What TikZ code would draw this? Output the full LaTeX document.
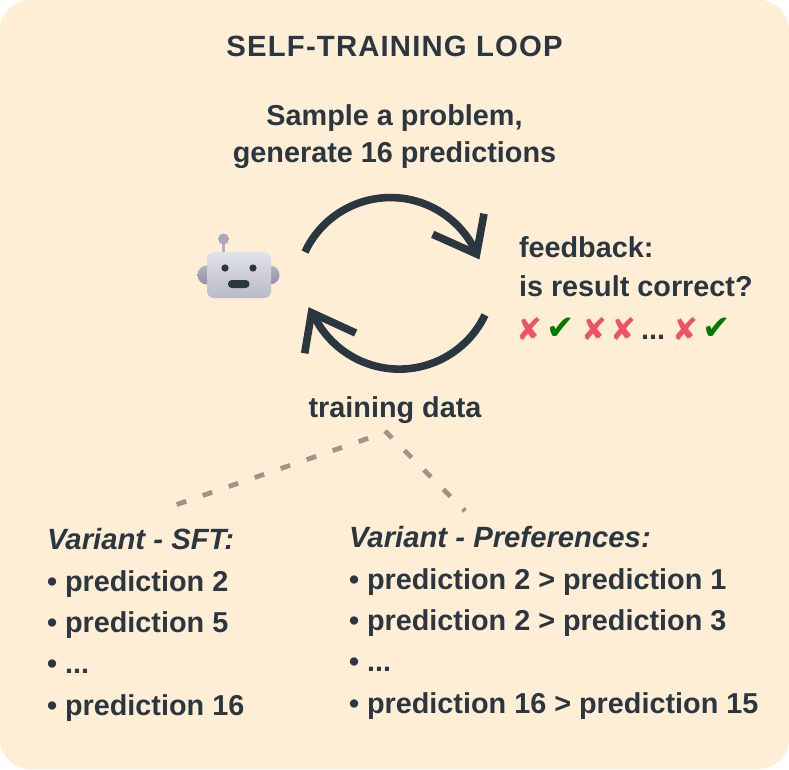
\documentclass[tikz,border=0pt]{standalone}
\usepackage{fontspec}
\setmainfont{Liberation Sans}
\newfontfamily\symfont{DejaVu Sans}
\newfontfamily\titlefont[LetterSpace=4]{Liberation Sans}
\definecolor{bgc}{HTML}{FEEED6}
\definecolor{ink}{HTML}{2A3740}
\definecolor{dashc}{HTML}{A09488}
\definecolor{redc}{HTML}{EE5268}
\definecolor{greenc}{HTML}{007A00}
\definecolor{headt}{HTML}{E2E2E9}
\definecolor{headb}{HTML}{B9B9C8}
\definecolor{eart}{HTML}{B5B3C3}
\definecolor{earb}{HTML}{918EA8}
\tikzset{
  txt/.style={inner sep=0pt,outer sep=0pt,anchor=base west,text=ink,font=\fontsize{28.8}{30}\selectfont\bfseries},
  ctxt/.style={txt,anchor=base},
  vtxt/.style={txt,font=\fontsize{29.3}{30}\selectfont\bfseries\itshape},
  loopline/.style={draw=ink,line width=7.6pt,line cap=butt,miter limit=10},
  dashline/.style={draw=dashc,line width=4.8pt,dash pattern=on 10pt off 17.5pt},
  nomark/.style={inner sep=0pt,text=redc,font=\symfont\fontsize{31}{31}\selectfont},
  yesmark/.style={inner sep=0pt,text=greenc,font=\symfont\fontsize{34}{34}\selectfont},
}
\begin{document}
\begin{tikzpicture}[x=1pt,y=-1pt]
\useasboundingbox (0,0) rectangle (789,769);
\fill[bgc,rounded corners=30pt] (0,0) rectangle (789,769);
% robot
\shade[top color=eart,bottom color=earb] (207,275) circle[radius=9.5];
\shade[top color=eart,bottom color=earb] (270,275) circle[radius=9.5];
\fill[eart!90!earb] (221.5,240) rectangle (225,254);
\fill[eart!70!earb] (223.5,239) circle[radius=5.5];
\shade[top color=headt,bottom color=headb,rounded corners=7pt] (207,252) rectangle (271,298);
\fill[ink] (225,268) circle[radius=3.6];
\fill[ink] (253,268) circle[radius=3.6];
\fill[ink,rounded corners=3.8pt] (228,280) rectangle (249.5,288);
% loop
\coordinate (ta) at (305,252);
\coordinate (ba) at (485,315);
\path[loopline] (ta) arc[start angle=-155,end angle=-24,radius=94.3];
\path[loopline] (ba) arc[start angle=25.5,end angle=155,radius=95];
\coordinate (t1) at (484,213.7);
\coordinate (t2) at (476.6,254);
\coordinate (t3) at (432.7,234.3);
\coordinate (b1) at (304.7,353.3);
\coordinate (b2) at (311.5,312.7);
\coordinate (b3) at (355.7,333);
\path[loopline] (t1) -- (t2) -- (t3);
\path[loopline] (b1) -- (b2) -- (b3);
% dashed
\coordinate (tr) at (385,431);
\coordinate (l0) at (176.7,504.5);
\coordinate (l1) at (372,437);
\coordinate (r1) at (465,511);
\path[dashline] (l0) -- (l1);
\path[dashline] (tr) -- (r1);
% text
\node[ctxt,font=\titlefont\fontsize{29.3}{30}\selectfont\bfseries] (title) at (394.5,56) {SELF-TRAINING LOOP};
\node[ctxt] (s1) at (394.5,125) {Sample a problem,};
\node[ctxt] (s2) at (394.5,162) {generate 16 predictions};
\node[txt] (f1) at (519,257) {feedback:};
\node[txt] (f2) at (519,296) {is result correct?};
\node[nomark] (m1) at (529,329) {✘};
\node[yesmark] (m2) at (561,329) {✔};
\node[nomark] (m3) at (594,329) {✘};
\node[nomark] (m4) at (623,329) {✘};
\node[ctxt] (m5) at (653,339) {...};
\node[nomark] (m6) at (685,329) {✘};
\node[yesmark] (m7) at (717,329) {✔};
\node[ctxt] (td) at (395,417) {training data};
\node[vtxt] (a0) at (47,549) {Variant - SFT:};
\node[txt] (a1) at (47,591) {• prediction 2};
\node[txt] (a2) at (47,632) {• prediction 5};
\node[txt] (a3) at (47,673) {• ...};
\node[txt] (a4) at (47,715) {• prediction 16};
\node[vtxt] (b0) at (349,547) {Variant - Preferences:};
\node[txt] (c1) at (349,589) {• prediction 2 > prediction 1};
\node[txt] (c2) at (349,630) {• prediction 2 > prediction 3};
\node[txt] (c3) at (349,671) {• ...};
\node[txt] (c4) at (349,713) {• prediction 16 > prediction 15};
\end{tikzpicture}
\end{document}
